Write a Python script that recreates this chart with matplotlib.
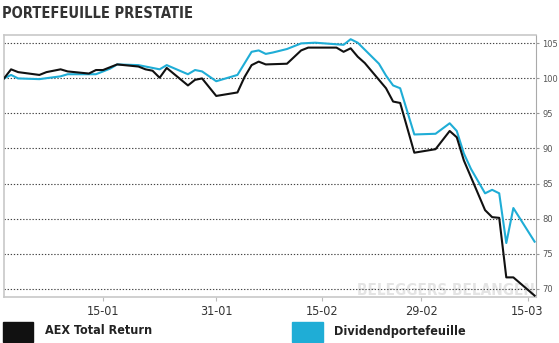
import numpy as np
import pandas as pd
import matplotlib
matplotlib.use("Agg")
import matplotlib.pyplot as plt
import matplotlib.dates as mdates

# day offsets from 1 jan 2016 + values (index, start = 100)
aex_days = [0, 1, 2, 5, 6, 8, 9, 12, 13, 14, 16, 19, 20, 21, 22, 23, 26, 27, 28, 30,
            33, 34, 35, 36, 37, 40, 42, 43, 47, 48, 49, 50, 51, 52, 54, 55, 56, 58,
            61, 63, 64, 65, 68, 69, 70, 71, 72, 75]
aex_vals = [100.0, 101.3, 100.9, 100.5, 100.9, 101.3, 101.0, 100.7, 101.2, 101.2, 102.0,
            101.7, 101.3, 101.1, 100.1, 101.5, 99.0, 99.8, 100.0, 97.5,
            98.0, 100.2, 101.9, 102.4, 102.0, 102.1, 104.0, 104.4, 104.4, 103.8, 104.3,
            103.1, 102.2, 101.0, 98.6, 96.7, 96.5, 89.4,
            89.9, 92.5, 91.6, 88.3, 81.2, 80.2, 80.1, 71.6, 71.6, 69.0]

div_days = [0, 1, 2, 5, 8, 9, 12, 13, 15, 16, 19, 22, 23, 26, 27, 28, 30, 33, 35, 36,
            37, 38, 40, 42, 44, 48, 49, 50, 53, 54, 55, 56, 58, 61, 63, 64, 65, 66,
            68, 69, 70, 71, 72, 75]
div_vals = [100.0, 100.5, 100.0, 99.9, 100.3, 100.6, 100.6, 100.6, 101.4, 102.0, 101.9,
            101.3, 101.9, 100.6, 101.2, 101.0, 99.6, 100.5, 103.8, 104.0,
            103.5, 103.7, 104.2, 105.0, 105.1, 104.8, 105.6, 105.1, 102.1, 100.4, 99.0,
            98.6, 92.0, 92.1, 93.6, 92.5, 89.3, 87.1,
            83.6, 84.1, 83.6, 76.5, 81.5, 76.7]

tick_dates = ["2016-01-15", "2016-01-31", "2016-02-15", "2016-02-29", "2016-03-15"]
y_ticks = [70, 75, 80, 85, 90, 95, 100, 105]

start = pd.Timestamp("2016-01-01")
aex_x = [start + pd.Timedelta(days=d) for d in aex_days]
div_x = [start + pd.Timedelta(days=d) for d in div_days]

black = "#111111"
blue = "#1fadd6"
cond = dict(family="DejaVu Sans", fontstretch="condensed")

W, H = 559, 343
fig = plt.figure(figsize=(W / 100, H / 100), dpi=100)
ax = fig.add_axes([4 / W, (H - 297) / H, 532 / W, (297 - 35) / H])

ax.plot(div_x, div_vals, color=blue, lw=1.5, zorder=3)
ax.plot(aex_x, aex_vals, color=black, lw=1.5, zorder=4)

ax.set_xlim(start, start + pd.Timedelta(days=75.2))
ax.set_ylim(68.8, 106.2)

ax.set_yticks(y_ticks)
ax.yaxis.tick_right()
ax.set_yticklabels([str(v) for v in y_ticks], fontsize=6, color="#555555")
ax.grid(axis="y", color="#444444", linestyle=(0, (1.2, 1.6)), lw=0.8)
ax.set_xticks([pd.Timestamp(d) for d in tick_dates])
ax.xaxis.set_major_formatter(mdates.DateFormatter("%d-%m"))
ax.tick_params(axis="x", labelsize=9, colors="#bbbbbb", labelcolor="#333333",
               length=3, width=0.8, pad=3)
ax.tick_params(axis="y", colors="#999999", labelcolor="#555555", length=2.5,
               width=0.8, pad=2)
for lab in ax.get_xticklabels():
    lab.set_fontstretch("condensed")
for s in ax.spines.values():
    s.set_color("#c8c8c8")
    s.set_linewidth(1.2)
ax.spines["right"].set_color("#aaaaaa")
ax.spines["right"].set_linewidth(0.8)

# watermark
ax.text(0.83, 0.025, "BELEGGERS BELANGEN", transform=ax.transAxes, ha="center",
        va="center", fontsize=11, fontweight="bold", color="#e4e4e4", zorder=1, **cond)

fig.text(2 / W, 1 - 14 / H, "PORTEFEUILLE PRESTATIE", fontsize=10.5, fontweight="bold",
         color="#333333", va="center", ha="left", **cond)

# legend boxes
fig.patches.append(plt.Rectangle((3 / W, 1 - 342 / H), 30 / W, 20 / H,
                                 transform=fig.transFigure, color=black))
fig.text(45 / W, 1 - 331 / H, "AEX Total Return", fontsize=9, fontweight="bold",
         color="#222222", va="center", **cond)
fig.patches.append(plt.Rectangle((292 / W, 1 - 342 / H), 31 / W, 20 / H,
                                 transform=fig.transFigure, color=blue))
fig.text(334 / W, 1 - 331 / H, "Dividendportefeuille", fontsize=9, fontweight="bold",
         color="#222222", va="center", **cond)

fig.savefig("out.png", dpi=100)
